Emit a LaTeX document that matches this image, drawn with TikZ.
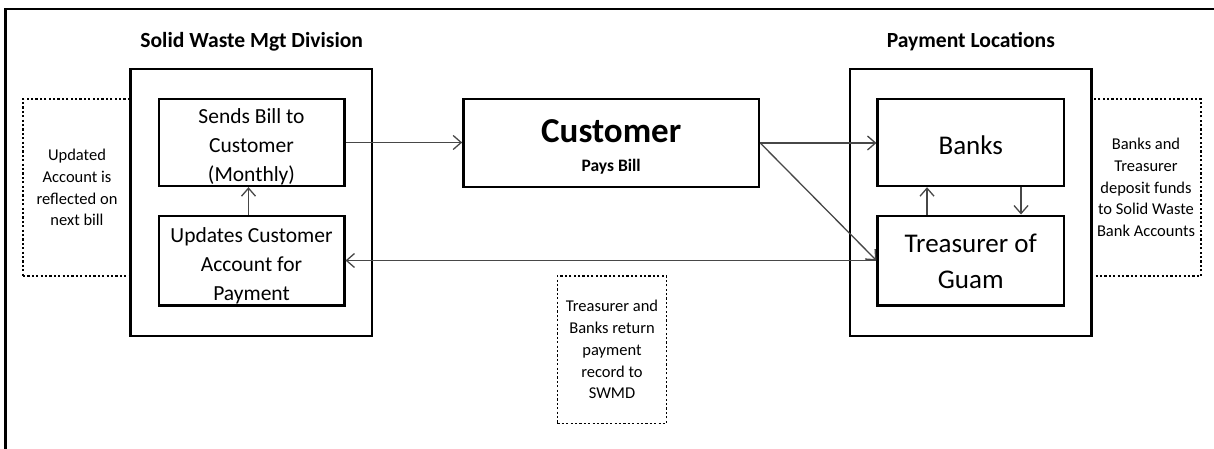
\documentclass[tikz,border=0pt]{standalone}
\usepackage{fontspec}
\setmainfont{Carlito}
\usetikzlibrary{arrows.meta}

\tikzset{
  frame/.style={line width=2.4pt, draw=black},
  group/.style={draw=black, line width=2.4pt, fill=white},
  stepbox/.style={draw=black, line width=2.4pt, fill=white, inner sep=0pt},
  steptext/.style={align=center, inner sep=0pt},
  midtext/.style={steptext, font=\fontsize{21.5}{29}\selectfont},
  bigtext/.style={steptext, font=\fontsize{27}{36.3}\selectfont},
  note/.style={draw=black, line width=1.3pt, dash pattern=on 2.2pt off 2.2pt,
    align=center, inner sep=0pt,
    font=\fontsize{16.5}{21.7}\selectfont},
  title/.style={font=\fontsize{21.6}{25}\selectfont\bfseries, anchor=base},
  flow/.style={draw=black!72, line width=1.3pt,
    -{Straight Barb[length=8pt,width=14pt,line width=1.3pt]}},
}

\begin{document}
\begin{tikzpicture}[x=1pt, y=-1pt]
  \useasboundingbox (0,0) rectangle (1214,449);

  % page frame: top rule and left rule
  \coordinate (ftl) at (5.3,9.3);
  \coordinate (ftr) at (1214,9.3);
  \coordinate (fbl) at (5.3,449);
  \draw[frame] (ftr) -- (ftl) -- (fbl);

  % dashed side notes (drawn first so the group frames sit on top)
  \node[note, minimum width=108pt, minimum height=177pt] (noteL) at (77,187.5)
    {Updated\\Account is\\reflected on\\next bill};
  \node[note, minimum width=109.7pt, minimum height=177pt] (noteR) at (1146,187.5)
    {Banks and\\Treasurer\\deposit funds\\to Solid Waste\\Bank Accounts};
  \node[note, minimum width=109.4pt, minimum height=147.3pt] (noteB) at (612,349.7)
    {Treasurer and\\Banks return\\payment\\record to\\SWMD};

  % group titles
  \node[title] (tSW) at (251.7,47.3) {Solid Waste Mgt Division};
  \node[title] (tPL) at (970.8,47.3) {Payment Locations};

  % group frames
  \node[group, minimum width=241.3pt, minimum height=267pt] (gSW) at (251.3,202.5) {};
  \node[group, minimum width=241.7pt, minimum height=267pt] (gPL) at (970.8,202.5) {};

  % Solid Waste Mgt Division steps
  \node[stepbox, minimum width=185.6pt, minimum height=87pt] (sends) at (251.5,142.5) {};
  \node[midtext] (sendsT) at (251.5,147) {Sends Bill to\\Customer\\(Monthly)};
  \node[stepbox, minimum width=185.6pt, minimum height=89.6pt] (updates) at (251.5,260.5) {};
  \node[midtext] (updatesT) at (251.5,265.3) {Updates Customer\\Account for\\Payment};

  % customer
  \node[stepbox, minimum width=295.7pt, minimum height=88pt] (cust) at (611.2,143) {};
  \node[steptext, font=\fontsize{17.5}{29}\selectfont] (custT) at (611.2,147)
    {{\fontsize{35}{38}\selectfont\bfseries Customer}\\
     {\bfseries Pays Bill}};

  % payment locations
  \node[stepbox, minimum width=186.3pt, minimum height=87pt] (banks) at (970.8,142.5) {};
  \node[bigtext] (banksT) at (970.8,144.8) {Banks};
  \node[stepbox, minimum width=186.3pt, minimum height=89.6pt] (treas) at (970.8,260.5) {};
  \node[bigtext] (treasT) at (970.8,261.5) {Treasurer of\\Guam};

  % flows
  \draw[flow] (sends.east) -- (sends.east -| cust.west);
  \draw[flow] (cust.east) -- (cust.east -| banks.west);
  \draw[flow] (cust.east) -- (treas.west);
  \draw[flow] (treas.west) -- (treas.west -| updates.east);
  \draw[flow] ([xshift=-3pt]updates.north) -- ([xshift=-3pt]sends.south);
  \draw[flow] ([xshift=-43.8pt]treas.north) -- ([xshift=-43.8pt]banks.south);
  \draw[flow] ([xshift=50.2pt]banks.south) -- ([xshift=50.2pt]treas.north);
\end{tikzpicture}
\end{document}
